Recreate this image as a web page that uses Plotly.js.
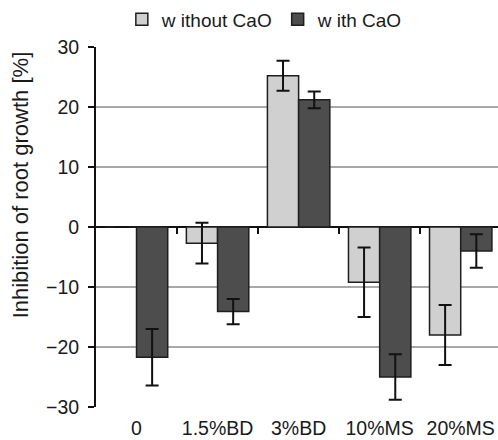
<!DOCTYPE html>
<html>
<head>
<meta charset="utf-8">
<script src="https://cdn.plot.ly/plotly-3.0.1.min.js"></script>
<style>html,body{margin:0;padding:0;background:#fff;}#chart{width:498px;height:440px;}</style>
</head>
<body>
<div id="chart"></div>
<script>
const categories = ["0", "1.5%BD", "3%BD", "10%MS", "20%MS"];
const withoutCaO = [0, -2.7, 25.2, -9.2, -18.0];
const withoutCaOErr = [0, 3.4, 2.5, 5.8, 5.0];
const withCaO = [-21.7, -14.1, 21.2, -25.0, -4.0];
const withCaOErr = [4.7, 2.1, 1.4, 3.8, 2.8];
const seriesNames = ["w ithout CaO", "w ith CaO"];
const yTitle = "Inhibition of root growth [%]";
const boundaryTicks = [0.5, 1.5, 2.5, 3.5];
const yTicks = [-30, -20, -10, 0, 10, 20, 30];

const family = "Liberation Sans, Arial, sans-serif";
const tickFont = {family: family, size: 19.5, color: "#1a1a1a"};
const legendFont = {family: family, size: 19, color: "#1a1a1a"};
const titleFont = {family: family, size: 22, color: "#1a1a1a"};

const traces = [
  {
    type: "bar", name: seriesNames[0], x: categories, y: withoutCaO,
    marker: {color: "#d0d0d0", line: {color: "#1e1e1e", width: 1.5}},
    error_y: {type: "data", array: withoutCaOErr, visible: true, color: "#111", thickness: 2, width: 6.5}
  },
  {
    type: "bar", name: seriesNames[1], x: categories, y: withCaO,
    marker: {color: "#4d4d4d", line: {color: "#1e1e1e", width: 1.5}},
    error_y: {type: "data", array: withCaOErr, visible: true, color: "#111", thickness: 2, width: 6.5}
  },
  {
    type: "scatter", x: [], y: [], xaxis: "x2", showlegend: false, hoverinfo: "skip"
  }
];

const layout = {
  width: 498, height: 440,
  margin: {l: 96, r: 0, t: 45, b: 32.5},
  paper_bgcolor: "#fff", plot_bgcolor: "#fff",
  font: tickFont,
  barmode: "group", bargap: 0.23, bargroupgap: 0,
  showlegend: true,
  legend: {orientation: "h", x: 0.42, xanchor: "center", y: 1.077, yanchor: "middle",
           font: legendFont, itemwidth: 30, traceorder: "normal"},
  xaxis: {
    type: "category", range: [-0.5, 4.46], showgrid: false, zeroline: false,
    showline: false, ticks: "", ticklabelstandoff: 7, tickfont: tickFont, fixedrange: true
  },
  xaxis2: {
    overlaying: "x", anchor: "free", position: 0.5, range: [-0.5, 4.46],
    showgrid: false, zeroline: false, showline: false, showticklabels: false,
    tickmode: "array", tickvals: boundaryTicks, ticks: "outside", ticklen: 6,
    tickwidth: 2, tickcolor: "#111"
  },
  yaxis: {
    range: [-30, 30], tickmode: "array", tickvals: yTicks,
    showgrid: true, gridcolor: "#a8a8a8", gridwidth: 1.5,
    zeroline: true, zerolinecolor: "#111", zerolinewidth: 2,
    showline: true, linecolor: "#111", linewidth: 2,
    ticks: "outside", ticklen: 6, tickwidth: 2, tickcolor: "#111",
    ticklabelstandoff: 5, tickfont: tickFont
  },
  annotations: [{
    text: yTitle, textangle: -90, xref: "paper", yref: "paper",
    x: -0.187, y: 0.618, xanchor: "center", yanchor: "middle",
    showarrow: false, font: titleFont
  }]
};

Plotly.newPlot("chart", traces, layout, {displayModeBar: false, staticPlot: true});
</script>
</body>
</html>
